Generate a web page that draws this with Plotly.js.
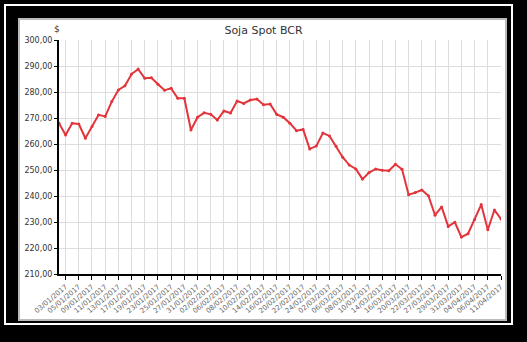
<!DOCTYPE html>
<html>
<head>
<meta charset="utf-8">
<script src="https://cdn.plot.ly/plotly-3.0.1.min.js"></script>
<style>
html,body{margin:0;padding:0;background:#000;}
#chart{width:527px;height:342px;}
</style>
</head>
<body>
<div id="chart"></div>
<script>
// Trading days (category axis)
const dates = [
"02/01/2017","03/01/2017","04/01/2017","05/01/2017","06/01/2017","09/01/2017","10/01/2017","11/01/2017","12/01/2017","13/01/2017",
"16/01/2017","17/01/2017","18/01/2017","19/01/2017","20/01/2017","23/01/2017","24/01/2017","25/01/2017","26/01/2017","27/01/2017",
"30/01/2017","31/01/2017","01/02/2017","02/02/2017","03/02/2017","06/02/2017","07/02/2017","08/02/2017","09/02/2017","10/02/2017",
"13/02/2017","14/02/2017","15/02/2017","16/02/2017","17/02/2017","20/02/2017","21/02/2017","22/02/2017","23/02/2017","24/02/2017",
"01/03/2017","02/03/2017","03/03/2017","06/03/2017","07/03/2017","08/03/2017","09/03/2017","10/03/2017","13/03/2017","14/03/2017",
"15/03/2017","16/03/2017","17/03/2017","20/03/2017","21/03/2017","22/03/2017","23/03/2017","27/03/2017","28/03/2017","29/03/2017",
"30/03/2017","31/03/2017","03/04/2017","04/04/2017","05/04/2017","06/04/2017","10/04/2017","11/04/2017"
];
// Soja spot price (R$/saca)
const prices = [
268.0,263.5,268.0,267.7,262.2,266.7,271.2,270.6,276.3,280.8,
282.4,286.9,288.8,285.3,285.5,283.0,280.7,281.4,277.6,277.6,
265.4,270.3,272.0,271.4,269.2,272.7,271.9,276.5,275.6,276.9,
277.3,275.1,275.4,271.4,270.3,268.0,265.1,265.6,258.1,259.2,
264.2,263.1,259.1,254.9,251.9,250.4,246.5,249.0,250.4,249.9,
249.7,252.2,250.3,240.5,241.3,242.3,240.1,232.6,235.8,228.3,
229.9,224.2,225.5,231.0,236.7,227.0,234.6,231.2
];
// Tick labels shown on the x axis
const xTickLabels = [
"03/01/2017","05/01/2017","09/01/2017","11/01/2017","13/01/2017","17/01/2017","19/01/2017","23/01/2017","25/01/2017","27/01/2017",
"31/01/2017","02/02/2017","06/02/2017","08/02/2017","10/02/2017","14/02/2017","16/02/2017","20/02/2017","22/02/2017","24/02/2017",
"02/03/2017","06/03/2017","08/03/2017","10/03/2017","14/03/2017","16/03/2017","20/03/2017","22/03/2017","27/03/2017","29/03/2017",
"31/03/2017","04/04/2017","06/04/2017","11/04/2017"
];

const L = 59, R = 26, T = 40, B = 68, W = 527, H = 342;
const pw = W - L - R, ph = H - T - B;
const px = v => (v - L) / pw;
const py = v => (H - B - v) / ph;

const trace = {
  x: dates, y: prices, type: 'scatter', mode: 'lines+markers',
  line: {color: '#e3343c', width: 2},
  marker: {color: '#e3343c', size: 3},
  hoverinfo: 'x+y'
};

const layout = {
  width: W, height: H,
  margin: {l: L, r: R, t: T, b: B, pad: 0},
  paper_bgcolor: '#000000',
  plot_bgcolor: '#ffffff',
  separators: ',.',
  showlegend: false,
  font: {family: 'DejaVu Sans, sans-serif', color: '#333'},
  title: {text: 'Soja Spot BCR', x: 0.5, xanchor: 'center', y: 1 - 30/H, yanchor: 'middle',
          font: {size: 11, color: '#333', family: 'DejaVu Sans, sans-serif'}},
  xaxis: {
    type: 'category', range: [0, dates.length - 1],
    tickmode: 'array', tickvals: xTickLabels, ticktext: xTickLabels,
    tickangle: -40, tickfont: {size: 7, color: '#666'},
    ticks: 'outside', ticklen: 4, tickcolor: '#000', tickwidth: 1,
    showgrid: true, gridcolor: '#dddddd', gridwidth: 1,
    showline: true, linecolor: '#000', linewidth: 2,
    zeroline: false, fixedrange: true
  },
  yaxis: {
    range: [210, 300], dtick: 10, tick0: 210, tickformat: '.2f',
    tickfont: {size: 8, color: '#333'},
    ticks: 'outside', ticklen: 3, tickcolor: '#000', tickwidth: 1,
    showgrid: true, gridcolor: '#dddddd', gridwidth: 1,
    showline: true, linecolor: '#000', linewidth: 2,
    zeroline: false, fixedrange: true
  },
  annotations: [
    {text: '$', xref: 'paper', yref: 'paper', x: px(57), y: py(29), showarrow: false,
     font: {size: 9, color: '#333'}, xanchor: 'center', yanchor: 'middle'}
  ],
  shapes: [
    {type: 'rect', xref: 'paper', yref: 'paper', layer: 'below',
     x0: px(4), x1: px(513), y0: py(4), y1: py(325), fillcolor: '#ffffff', line: {width: 0}},
    {type: 'rect', xref: 'paper', yref: 'paper', layer: 'below',
     x0: px(6), x1: px(511), y0: py(6), y1: py(323), fillcolor: '#000000', line: {width: 0}},
    {type: 'rect', xref: 'paper', yref: 'paper', layer: 'below',
     x0: px(19), x1: px(506), y0: py(19), y1: py(320), fillcolor: '#ffffff', line: {color: '#bbbbbb', width: 2}}
  ]
};

Plotly.newPlot('chart', [trace], layout, {staticPlot: true, displayModeBar: false});
</script>
</body>
</html>
